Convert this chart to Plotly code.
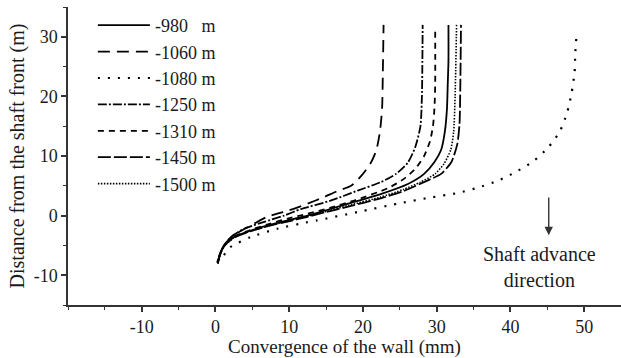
import plotly.graph_objects as go

# ---- data ----
names = ["-980\u00a0\u00a0\u00a0m", "-1060 m", "-1080 m", "-1250 m", "-1310 m", "-1450 m", "-1500 m"]

x_980 = [0.3, 0.6, 1.2, 2.5, 4.8, 7.0, 9.8, 12.5, 15.0, 18.0, 22.4, 26.1, 28.3, 29.7, 30.6, 31.1, 31.4, 31.5, 31.6, 31.6]
y_980 = [-8.0, -6.5, -5.0, -3.6, -2.5, -1.7, -0.8, 0.0, 0.9, 2.0, 3.6, 5.3, 7.0, 9.0, 11.0, 14.0, 18.0, 22.0, 26.0, 32.0]

x_1060 = [0.3, 0.7, 1.3, 2.2, 4.3, 7.0, 9.8, 12.5, 14.7, 16.5, 18.4, 19.8, 21.0, 21.8, 22.3, 22.6, 22.7, 22.8]
y_1060 = [-8.0, -6.3, -4.8, -3.5, -2.0, -0.2, 0.8, 2.0, 3.1, 4.1, 5.0, 6.7, 8.7, 10.9, 14.0, 18.0, 24.0, 32.0]

x_1080 = [0.2, 1.1, 2.0, 4.8, 8.4, 12.5, 13.8, 19.3, 24.7, 29.0, 32.9, 35.6, 38.2, 40.7, 43.1, 45.1, 46.7, 47.7, 48.3, 48.7, 48.8, 49.0]
y_1080 = [-7.8, -6.7, -5.3, -3.6, -2.2, -1.1, -0.8, 0.6, 2.0, 3.0, 3.8, 4.7, 5.8, 7.3, 9.1, 11.4, 14.1, 17.3, 20.6, 24.0, 27.3, 30.8]

x_1250 = [0.3, 0.6, 1.2, 2.4, 3.9, 6.5, 9.3, 11.6, 15.6, 19.3, 22.4, 24.5, 26.1, 27.1, 27.8, 28.0, 28.1]
y_1250 = [-8.0, -6.4, -4.9, -3.3, -2.2, -1.1, 0.0, 1.1, 2.5, 4.2, 5.6, 7.0, 8.9, 11.5, 15.0, 20.0, 32.0]

x_1310 = [0.3, 0.6, 1.2, 2.5, 4.8, 7.0, 9.8, 12.5, 15.5, 19.0, 23.4, 25.6, 27.2, 28.3, 29.1, 29.5, 29.7, 29.8, 29.8]
y_1310 = [-8.0, -6.5, -5.0, -3.5, -2.4, -1.5, -0.5, 0.3, 1.3, 2.6, 4.6, 6.2, 8.0, 10.0, 12.5, 15.0, 18.0, 22.0, 31.5]

x_1450 = [0.3, 0.6, 1.2, 2.5, 4.8, 7.0, 9.8, 12.5, 15.0, 18.0, 22.4, 25.5, 28.8, 30.6, 32.0, 32.8, 33.1, 33.2, 33.3]
y_1450 = [-8.0, -6.6, -5.1, -3.7, -2.6, -1.8, -1.0, -0.2, 0.6, 1.5, 2.9, 4.1, 5.9, 7.0, 9.0, 12.0, 15.4, 21.0, 32.0]

x_1500 = [0.3, 0.6, 1.2, 2.5, 4.8, 7.0, 9.8, 12.5, 15.0, 18.0, 22.4, 25.5, 27.8, 29.8, 31.0, 31.9, 32.3, 32.5, 32.7]
y_1500 = [-8.0, -6.6, -5.1, -3.7, -2.6, -1.8, -0.9, -0.1, 0.7, 1.7, 3.1, 4.4, 5.6, 7.0, 8.7, 11.0, 14.0, 20.0, 32.0]

xs = [x_980, x_1060, x_1080, x_1250, x_1310, x_1450, x_1500]
ys = [y_980, y_1060, y_1080, y_1250, y_1310, y_1450, y_1500]

x_ticks = [-10, 0, 10, 20, 30, 40, 50]
x_ticktext = ["-10", "0", "10", "20", "30", "40", "50"]
y_ticks = [-10, 0, 10, 20, 30]
y_ticktext = ["-10", "0", "10", "20", "30"]

# ---- styles ----
dashes = ["solid", "12px,7px", "2px,8px", "9px,2px,2px,2px", "6px,5px", "13px,3px", "1.5px,1.5px"]
widths = [1.8, 1.8, 2.2, 1.8, 1.8, 1.8, 1.6]

SERIF = "Liberation Serif, Times New Roman, serif"
INK = "#1a1a1a"

fig = go.Figure()
for nm, xv, yv, d, w in zip(names, xs, ys, dashes, widths):
    fig.add_trace(go.Scatter(x=xv, y=yv, mode="lines", name=nm,
                             line=dict(color="black", width=w, dash=d, shape="spline", smoothing=0.6)))

fig.add_annotation(x=45.2, y=-3.3, ax=45.2, ay=3.3, xref="x", yref="y", axref="x", ayref="y",
                   text="", showarrow=True, arrowhead=2, arrowsize=1.2, arrowwidth=1.4,
                   arrowcolor="#333")
fig.add_annotation(x=43.9, y=-8.7, xref="x", yref="y", showarrow=False,
                   text="Shaft advance<br>direction", align="center",
                   font=dict(family=SERIF, size=20, color=INK))

axis_common = dict(showline=True, linecolor="#333", linewidth=1.5, ticks="outside",
                   ticklen=5, tickwidth=1.5, tickcolor="#333", showgrid=False, zeroline=False,
                   tickfont=dict(family=SERIF, size=18, color=INK), mirror=False)

fig.update_xaxes(range=[-20, 55], tickvals=x_ticks, ticktext=x_ticktext, **axis_common,
                 minor=dict(ticks="outside", dtick=5, tick0=-15, ticklen=3, tickwidth=1.2, tickcolor="#333"),
                 title=dict(text="Convergence of the wall (mm)", font=dict(family=SERIF, size=19, color=INK), standoff=4))
fig.update_yaxes(range=[-15, 35], tickvals=y_ticks, ticktext=y_ticktext, **axis_common,
                 minor=dict(ticks="outside", dtick=5, tick0=-15, ticklen=3, tickwidth=1.2, tickcolor="#333"),
                 title=dict(text="Distance from the shaft front (m)", font=dict(family=SERIF, size=20, color=INK), standoff=4))

fig.update_layout(
    width=621, height=358,
    margin=dict(l=68, r=0, t=7, b=53),
    paper_bgcolor="white", plot_bgcolor="white",
    showlegend=True,
    legend=dict(x=0.045, y=1.0, xanchor="left", yanchor="top",
                font=dict(family=SERIF, size=18, color=INK),
                bgcolor="rgba(0,0,0,0)", itemwidth=52, tracegroupgap=0),
)

fig.write_html("out.html")
